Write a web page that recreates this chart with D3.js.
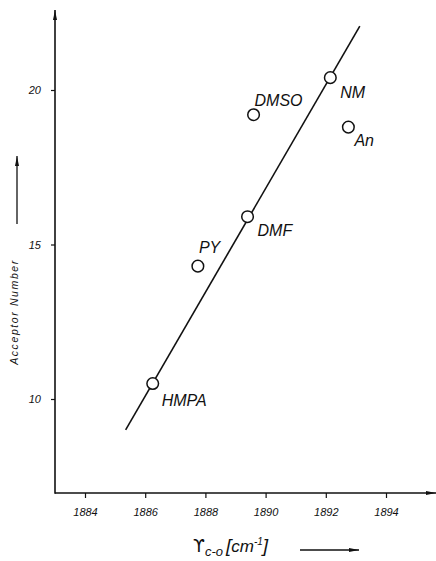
<!DOCTYPE html>
<html>
<head>
<meta charset="utf-8">
<script src="https://cdn.jsdelivr.net/npm/d3@7"></script>
<style>
  body { margin: 0; background: white; }
  text { font-family: "Liberation Sans", Arial, sans-serif; fill: #111; }
</style>
</head>
<body>
<svg class="canvas"></svg>
<script>
//data
let solvents = ["HMPA", "PY", "DMF", "DMSO", "NM", "An"];
let wavenumber = [1886.25, 1887.75, 1889.4, 1889.6, 1892.15, 1892.75];
let acceptorNumber = [10.5, 14.3, 15.9, 19.2, 20.4, 18.8];
let fitX = [1885.35, 1893.13];
let fitY = [9.0, 22.07];
let xTicks = [1884, 1886, 1888, 1890, 1892, 1894];
let yTicks = [10, 15, 20];
//----------

let width = 436;
let height = 561;
let axisX = 55;     // y axis position
let axisY = 493;    // x axis position

let x = d3.scaleLinear().domain([1884, 1894]).range([85, 386]);
let y = d3.scaleLinear().domain([10, 20]).range([399, 90]);

// label offsets from the circle centre
let labelPos = {
  HMPA: [9, 22], PY: [1, -13], DMF: [10, 19],
  DMSO: [1, -9], NM: [10, 20], An: [6, 19]
};

let svg = d3.select(".canvas")
  .attr("width", width)
  .attr("height", height);

svg.append("defs").append("marker")
  .attr("id", "arrow")
  .attr("viewBox", "0 0 10 4")
  .attr("refX", 10).attr("refY", 2)
  .attr("markerWidth", 10).attr("markerHeight", 4)
  .attr("markerUnits", "userSpaceOnUse")
  .attr("orient", "auto")
  .append("path")
  .attr("d", "M0,0 L10,2 L0,4 Z")
  .attr("fill", "#111");

// axes
let xAxis = d3.axisBottom(x).tickValues(xTicks).tickSize(5).tickFormat(d3.format("d"));
let gx = svg.append("g").attr("transform", `translate(0,${axisY})`).call(xAxis);
gx.select(".domain").remove();
gx.selectAll("line").attr("stroke", "#111").attr("stroke-width", 1.2);
gx.selectAll("text")
  .attr("dy", "1.35em")
  .style("font-size", "11px").style("font-style", "italic");

let yAxis = d3.axisLeft(y).tickValues(yTicks).tickSize(4);
let gy = svg.append("g").attr("transform", `translate(${axisX},0)`).call(yAxis);
gy.select(".domain").remove();
gy.selectAll("line").attr("stroke", "#111").attr("stroke-width", 1.2);
gy.selectAll("text")
  .attr("x", -14)
  .style("font-size", "11px").style("font-style", "italic");

svg.append("line")
  .attr("x1", axisX).attr("y1", axisY).attr("x2", 436).attr("y2", axisY)
  .attr("stroke", "#111").attr("stroke-width", 1.6)
  .attr("marker-end", "url(#arrow)");
svg.append("line")
  .attr("x1", axisX).attr("y1", axisY + 0.8).attr("x2", axisX).attr("y2", 10)
  .attr("stroke", "#111").attr("stroke-width", 1.6)
  .attr("marker-end", "url(#arrow)");

// fit line
svg.append("line")
  .attr("x1", x(fitX[0])).attr("y1", y(fitY[0]))
  .attr("x2", x(fitX[1])).attr("y2", y(fitY[1]))
  .attr("stroke", "#111").attr("stroke-width", 1.6);

let pts = solvents.map((s, i) => ({name: s, wn: wavenumber[i], an: acceptorNumber[i]}));

svg.selectAll(".pt")
  .data(pts)
  .enter()
  .append("circle")
  .attr("class", "pt")
  .attr("cx", d => x(d.wn))
  .attr("cy", d => y(d.an))
  .attr("r", 5.8)
  .attr("fill", "white")
  .attr("stroke", "#111")
  .attr("stroke-width", 1.5);

svg.selectAll(".lbl")
  .data(pts)
  .enter()
  .append("text")
  .attr("class", "lbl")
  .attr("x", d => x(d.wn) + labelPos[d.name][0])
  .attr("y", d => y(d.an) + labelPos[d.name][1])
  .style("font-size", "16px")
  .style("font-style", "italic")
  .text(d => d.name);

// y label with arrow
svg.append("text")
  .attr("transform", "translate(18,312) rotate(-90)")
  .attr("text-anchor", "middle")
  .style("font-size", "10.5px")
  .style("font-style", "italic")
  .style("letter-spacing", "1.6px")
  .text("Acceptor Number");
svg.append("line")
  .attr("x1", 17).attr("y1", 224).attr("x2", 17).attr("y2", 156)
  .attr("stroke", "#111").attr("stroke-width", 1.3)
  .attr("marker-end", "url(#arrow)");

// x label with arrow
let xl = svg.append("text").attr("x", 193).attr("y", 552);
xl.append("tspan").style("font-family", "'DejaVu Sans'").style("font-size", "17px").text("ϒ");
xl.append("tspan").attr("dy", 4).style("font-size", "13px").style("font-style", "italic").text("c-o");
xl.append("tspan").attr("dx", 3).attr("dy", -4).style("font-size", "19px").style("font-style", "italic").text("[");
xl.append("tspan").style("font-size", "17px").style("font-style", "italic").text("cm");
xl.append("tspan").attr("dy", -7).style("font-size", "10px").style("font-style", "italic").text("-1");
xl.append("tspan").attr("dy", 7).style("font-size", "19px").style("font-style", "italic").text("]");
svg.append("line")
  .attr("x1", 300).attr("y1", 550).attr("x2", 359).attr("y2", 550)
  .attr("stroke", "#111").attr("stroke-width", 1.3)
  .attr("marker-end", "url(#arrow)");
</script>
</body>
</html>
